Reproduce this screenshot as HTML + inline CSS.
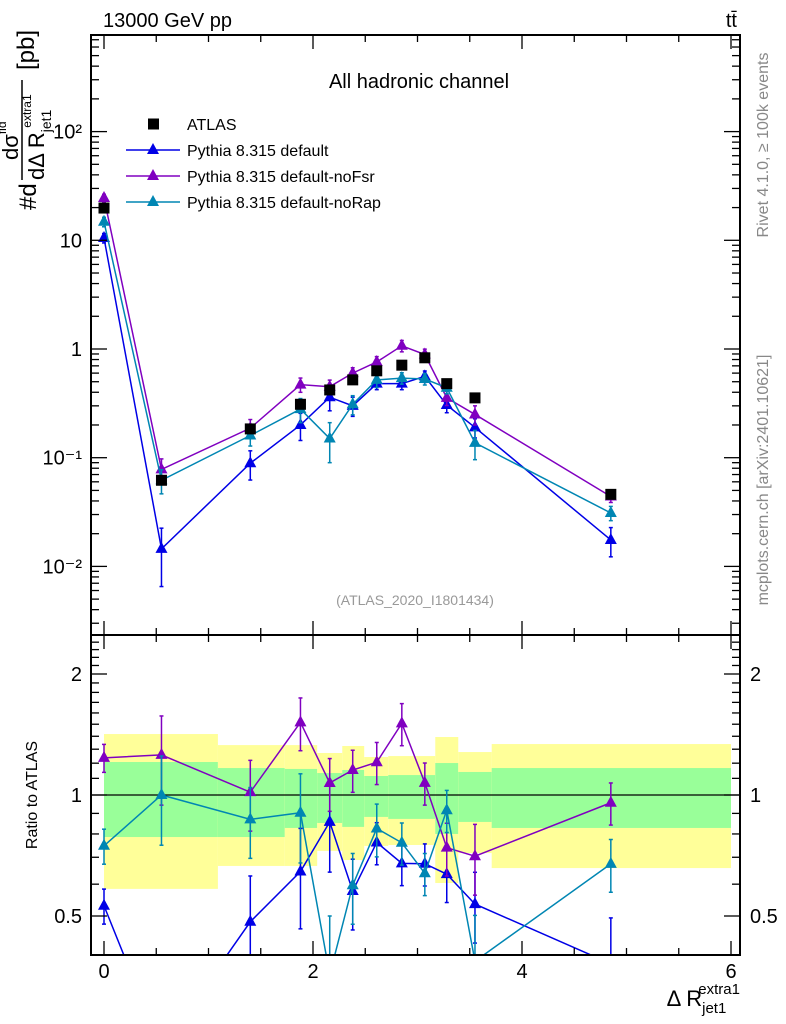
<!DOCTYPE html>
<html><head><meta charset="utf-8"><style>
html,body{margin:0;padding:0;background:#fff;width:786px;height:1024px;overflow:hidden}
svg{display:block;font-family:"Liberation Sans",sans-serif}
</style></head><body>
<svg id="c" width="786" height="1024" viewBox="0 0 786 1024">
<g id="bands"></g>
<g id="marks"></g>
<g id="axes"></g>
<text x="103" y="27" font-size="20">13000 GeV pp</text>
<text x="737" y="27" font-size="20" text-anchor="end">tt̄</text>
<text x="419" y="88" font-size="20" text-anchor="middle">All hadronic channel</text>
<text x="415" y="605" font-size="14" fill="#999" text-anchor="middle">(ATLAS_2020_I1801434)</text>
<text transform="translate(768,145) rotate(-90)" font-size="16" fill="#888" text-anchor="middle">Rivet 4.1.0, ≥ 100k events</text>
<text transform="translate(768,480) rotate(-90)" font-size="16" fill="#888" text-anchor="middle">mcplots.cern.ch [arXiv:2401.10621]</text>
<g transform="translate(0,210) rotate(-90)" font-size="24">
<text x="0" y="36">#d</text>
<text x="50" y="18" font-size="22">dσ<tspan font-size="12" dy="-12">fid</tspan></text>
<line x1="30" y1="22" x2="130" y2="22" stroke="#000" stroke-width="1.5"/>
<text x="30" y="44" font-size="22">dΔ R<tspan font-size="14" dy="7">jet1</tspan><tspan font-size="12" dx="-18" dy="-20">extra1</tspan></text>
<text x="140" y="34">[pb]</text>
</g>
<text transform="translate(37,795) rotate(-90)" font-size="16" text-anchor="middle">Ratio to ATLAS</text>
<text x="740" y="1006" font-size="22" text-anchor="end">Δ R<tspan font-size="15" dy="7">jet1</tspan><tspan font-size="15" dx="-28" dy="-19">extra1</tspan></text>
<g id="legend"></g>
</svg>
<script>
const xVals=[0,0.55,1.4,1.88,2.16,2.38,2.61,2.85,3.07,3.28,3.55,4.85];
const atlas=[19.8,0.062,0.184,0.31,0.42,0.52,0.63,0.71,0.83,0.48,0.355,0.046];
const pyDefault=[10.5,0.0145,0.089,0.2,0.36,0.30,0.48,0.48,0.56,0.305,0.19,0.0175];
const pyNoFsr=[24.5,0.078,0.187,0.47,0.45,0.60,0.76,1.07,0.89,0.355,0.25,0.044];
const pyNoRap=[14.8,0.062,0.16,0.28,0.15,0.31,0.52,0.54,0.53,0.44,0.137,0.031];
const errDefault=[0.1,0.55,0.3,0.28,0.25,0.2,0.12,0.12,0.12,0.15,0.2,0.3];
const errNoFsr=[0.08,0.25,0.2,0.15,0.15,0.12,0.12,0.12,0.12,0.15,0.2,0.12];
const errNoRap=[0.1,0.25,0.2,0.25,0.4,0.2,0.15,0.12,0.12,0.12,0.3,0.15];
const binEdges=[0,1.09,1.73,2.04,2.28,2.49,2.72,3.17,3.39,3.71,6.0];
const yellowHi=[1.418,1.331,1.331,1.272,1.324,1.243,1.25,1.394,1.279,1.339];
const yellowLo=[0.584,0.666,0.666,0.726,0.689,0.747,0.751,0.604,0.717,0.658];
const greenHi=[1.208,1.167,1.161,1.134,1.154,1.115,1.121,1.201,1.141,1.167];
const greenLo=[0.786,0.786,0.828,0.852,0.833,0.882,0.872,0.80,0.857,0.828];
const xTicks=[0,2,4,6];
const yTickLabels=["10⁻²","10⁻¹","1","10","10²"];
const ratioTicks=[0.5,1,2];

const NS="http://www.w3.org/2000/svg";
const L=91,R=740,T=35,MB=635,B=955;
const X=v=>104+v*104.5;
const Y=v=>349-Math.log10(v)*108.7;
const RY=r=>795-Math.log2(r)*121;
function mk(tag,attrs,parent){const e=document.createElementNS(NS,tag);for(const k in attrs)e.setAttribute(k,attrs[k]);parent.appendChild(e);return e;}
const bands=document.getElementById('bands'),marks=document.getElementById('marks'),axes=document.getElementById('axes'),leg=document.getElementById('legend');
const svg=document.getElementById('c');
const defs=mk('defs',{},svg);
const clip=mk('clipPath',{id:'cr'},defs);mk('rect',{x:L,y:MB,width:R-L,height:B-MB},clip);
const clipM=mk('clipPath',{id:'cm'},defs);mk('rect',{x:L,y:T,width:R-L,height:MB-T},clipM);
bands.setAttribute('clip-path','url(#cr)');
for(let i=0;i<binEdges.length-1;i++){
 const x1=X(binEdges[i]),x2=X(binEdges[i+1]);
 const y=mk('rect',{x:x1,y:RY(yellowHi[i]),width:x2-x1,height:RY(yellowLo[i])-RY(yellowHi[i]),fill:'#ffff99'},bands);
 
 
 const g=mk('rect',{x:x1,y:RY(greenHi[i]),width:x2-x1,height:RY(greenLo[i])-RY(greenHi[i]),fill:'#99ff99'},bands);
 
 
}
mk('line',{x1:L,y1:RY(1),x2:R,y2:RY(1),stroke:'#000','stroke-width':1.2},bands);
function tri(x,y,c,p,n){const t=mk('polygon',{points:`${x},${y-7} ${x-6},${y+4} ${x+6},${y+4}`,fill:c},p);}
const series=[[pyDefault,errDefault,'#0000e6','default'],[pyNoFsr,errNoFsr,'#8000c0','nofsr'],[pyNoRap,errNoRap,'#0086b3','norap']];
const gm=mk('g',{'clip-path':'url(#cm)'},marks);
const gr=mk('g',{'clip-path':'url(#cr)'},marks);
series.forEach(([vals,err,c,n])=>{
 mk('polyline',{points:vals.map((v,i)=>X(xVals[i])+','+Y(v)).join(' '),fill:'none',stroke:c,'stroke-width':1.5},gm);
 const rat=vals.map((v,i)=>v/atlas[i]);
 mk('polyline',{points:rat.map((v,i)=>X(xVals[i])+','+RY(v)).join(' '),fill:'none',stroke:c,'stroke-width':1.5},gr);
 vals.forEach((v,i)=>{
  const x=X(xVals[i]);
  [[gm,Y,v],[gr,RY,rat[i]]].forEach(([p,f,val])=>{
   const y1=f(val*(1+err[i])),y2=f(val*(1-err[i]));
   mk('line',{x1:x,y1:y1,x2:x,y2:y2,stroke:c,'stroke-width':1.5},p);
   mk('line',{x1:x-2,y1:y1,x2:x+2,y2:y1,stroke:c,'stroke-width':1.5},p);
   mk('line',{x1:x-2,y1:y2,x2:x+2,y2:y2,stroke:c,'stroke-width':1.5},p);
   tri(x,f(val),c,p,'point-'+n);
  });
 });
});
atlas.forEach((v,i)=>{const s=mk('rect',{x:X(xVals[i])-5.5,y:Y(v)-5.5,width:11,height:11,fill:'#000'},gm);});
const legItems=[['ATLAS',null],['Pythia 8.315 default','#0000e6'],['Pythia 8.315 default-noFsr','#8000c0'],['Pythia 8.315 default-noRap','#0086b3']];
legItems.forEach(([t,c],i)=>{const y=124+i*26;
 if(c){mk('line',{x1:126,y1:y,x2:180,y2:y,stroke:c,'stroke-width':1.5},leg);tri(153,y,c,leg,'legend-marker');}
 else{mk('rect',{x:148,y:y-5.5,width:11,height:11,fill:'#000'},leg);}
 const tx=mk('text',{x:187,y:y+6,'font-size':16},leg);tx.textContent=t;
 
 
});
mk('rect',{x:L,y:T,width:R-L,height:MB-T,fill:'none',stroke:'#000','stroke-width':2},axes);
mk('rect',{x:L,y:MB,width:R-L,height:B-MB,fill:'none',stroke:'#000','stroke-width':2},axes);
for(let v=0;v<=6.001;v+=0.5){const x=X(v),big=Math.abs(v-Math.round(v))<0.01&&Math.round(v)%2==0;const len=big?14:7;
 [[T,1],[MB,1],[MB,-1],[B,-1]].forEach(([y0,d])=>{mk('line',{x1:x,y1:y0,x2:x,y2:y0+d*len,stroke:'#000','stroke-width':1.3},axes);});}
xTicks.forEach(v=>{const t=mk('text',{x:X(v),y:978,'font-size':20,'text-anchor':'middle'},axes);t.textContent=v;});
for(let e=-3;e<=2;e++)for(let m=1;m<10;m++){const v=m*Math.pow(10,e),y=Y(v);if(y<T||y>MB)continue;const len=m==1?16:8;
 mk('line',{x1:L,y1:y,x2:L+len,y2:y,stroke:'#000','stroke-width':1.3},axes);mk('line',{x1:R,y1:y,x2:R-len,y2:y,stroke:'#000','stroke-width':1.3},axes);}
yTickLabels.forEach((s,i)=>{const t=mk('text',{x:82,y:Y(Math.pow(10,i-2))+7,'font-size':20,'text-anchor':'end'},axes);t.textContent=s;});
for(let r=0.4;r<=2.51;r+=0.1){const y=RY(r);if(y<MB||y>B)continue;const maj=[0.5,1,2].some(q=>Math.abs(q-r)<0.01);const len=maj?16:8;
 mk('line',{x1:L,y1:y,x2:L+len,y2:y,stroke:'#000','stroke-width':1.3},axes);mk('line',{x1:R,y1:y,x2:R-len,y2:y,stroke:'#000','stroke-width':1.3},axes);}
ratioTicks.forEach(v=>{[[82,'end'],[750,'start']].forEach(([x,a])=>{const t=mk('text',{x:x,y:RY(v)+7,'font-size':20,'text-anchor':a},axes);t.textContent=v;});});
</script>
</body></html>
